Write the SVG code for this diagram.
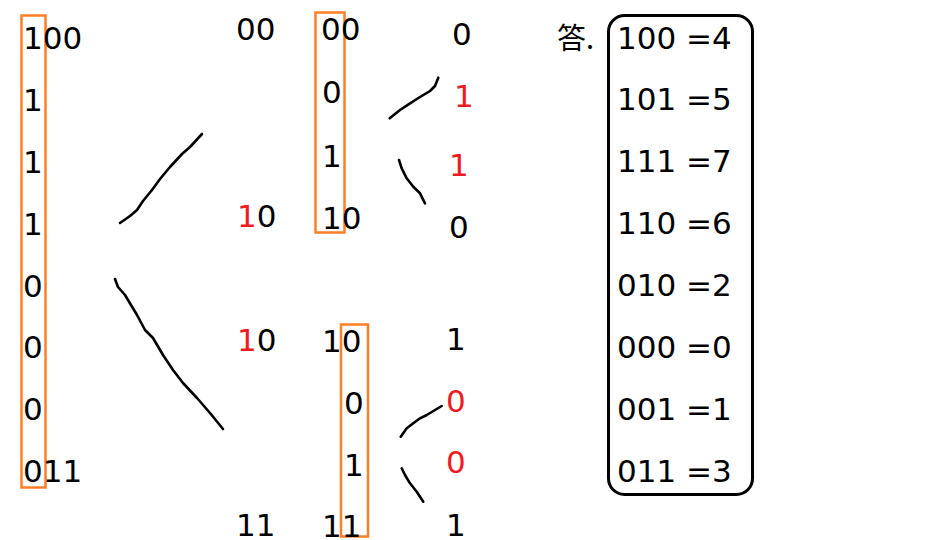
<svg xmlns="http://www.w3.org/2000/svg" width="932" height="540" viewBox="0 0 932 540">
<style>
text{font-family:"DejaVu Sans","Liberation Sans",sans-serif;font-size:31px;fill:#000}
.r{fill:#ED1C24}
.ob{fill:none;stroke:#FF7F27;stroke-width:2.5}
.c{fill:none;stroke:#000;stroke-width:2.6;stroke-linecap:round;stroke-linejoin:round}
</style>
<rect width="932" height="540" fill="#fff"/>
<g id="col-left">
<rect class="ob" x="21.5" y="15.5" width="24" height="472"/>
<text x="23" y="49">100</text>
<text x="23" y="111">1</text>
<text x="23" y="173">1</text>
<text x="23" y="235">1</text>
<text x="23" y="297">0</text>
<text x="23" y="358">0</text>
<text x="23" y="420">0</text>
<text x="23" y="482">011</text>
</g>
<g id="col-mid">
<text x="236" y="40">00</text>
<text x="237" y="227"><tspan class="r">1</tspan>0</text>
<text x="237" y="351"><tspan class="r">1</tspan>0</text>
<text x="236" y="536">11</text>
</g>
<g id="col-upper">
<rect class="ob" x="315.5" y="12.5" width="29" height="220"/>
<text x="321" y="40">00</text>
<text x="322" y="103">0</text>
<text x="322" y="167">1</text>
<text x="322" y="229">10</text>
</g>
<g id="col-lower">
<rect class="ob" x="341" y="324.5" width="27" height="212"/>
<text x="322" y="352">10</text>
<text x="344" y="414">0</text>
<text x="344" y="476">1</text>
<text x="322" y="537">11</text>
</g>
<g id="col-right">
<text x="452" y="45">0</text>
<text class="r" x="454" y="107">1</text>
<text class="r" x="449" y="176">1</text>
<text x="449" y="238">0</text>
<text x="446" y="350">1</text>
<text class="r" x="446" y="412">0</text>
<text class="r" x="446" y="473">0</text>
<text x="446" y="536">1</text>
</g>
<g id="connectors">
<polyline class="c" points="120,223 130,216 137,210 143,201 152,190 160,179 170,167 182,154 190,147 202,134"/>
<polyline class="c" points="115,279 118,287 125,295 137,315 145,330 153,338 163,355 173,370 183,383 197,398 210,413 223,429"/>
<polyline class="c" points="389.7,118.3 400,110 410,103.3 420,97 430,91 435,86 438.3,77.7"/>
<polyline class="c" points="399,160 401.7,168.3 406.7,178.3 413.3,186.7 420,193.3 425,203.3"/>
<polyline class="c" points="400.7,436.7 406.7,428.3 413.3,423.3 420,418.3 426.7,415 435,410 441.7,406"/>
<polyline class="c" points="401.7,468.3 405,475 410,483.3 416.7,491.7 423.3,501.7"/>
</g>
<g id="answer">
<text x="557" y="49" style="font-family:'Noto Sans CJK SC','Noto Sans CJK JP',sans-serif;font-size:29px">答.</text>
<rect x="608.5" y="15.5" width="144" height="479" rx="16" fill="none" stroke="#000" stroke-width="3"/>
<text x="617" y="49">100 =4</text>
<text x="617" y="110">101 =5</text>
<text x="617" y="172">111 =7</text>
<text x="617" y="234">110 =6</text>
<text x="617" y="296">010 =2</text>
<text x="617" y="358">000 =0</text>
<text x="617" y="420">001 =1</text>
<text x="617" y="482">011 =3</text>
</g>
</svg>
